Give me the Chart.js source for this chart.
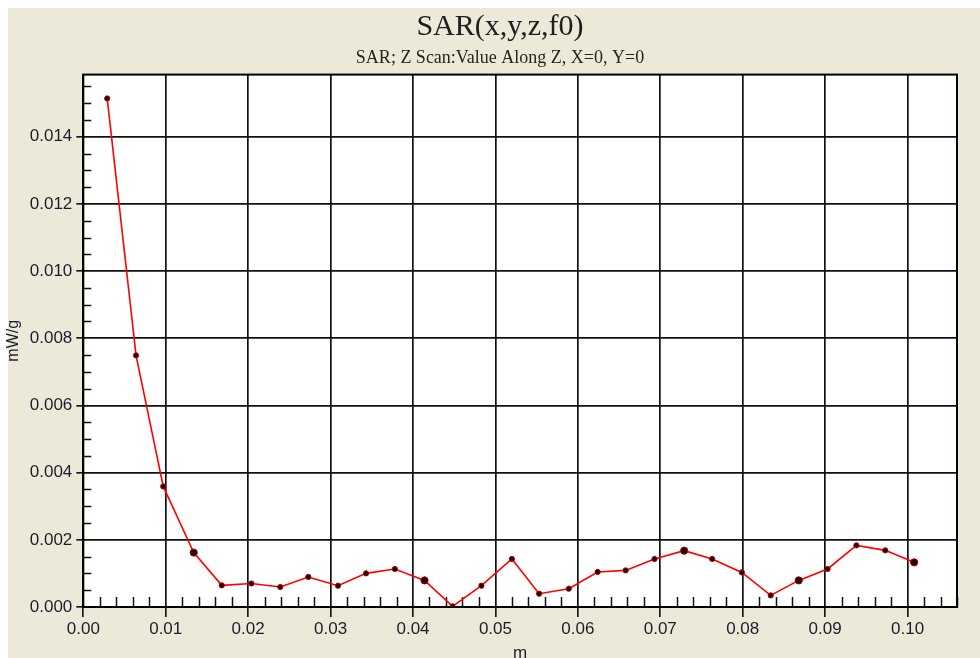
<!DOCTYPE html>
<html>
<head>
<meta charset="utf-8">
<script src="https://cdn.jsdelivr.net/npm/chart.js@4"></script>
<style>
  html, body { margin: 0; padding: 0; background: #ffffff; }
  #wrap { width: 980px; height: 658px; }
</style>
</head>
<body>
<div id="wrap"><canvas id="c" width="980" height="658"></canvas></div>
<script>
// ---- data ----
const zPositions = [0.0029, 0.0064, 0.0097, 0.0134, 0.0168, 0.0204, 0.0239, 0.0273, 0.0309, 0.0343,
                    0.0378, 0.0414, 0.0448, 0.0483, 0.0520, 0.0553, 0.0589, 0.0624, 0.0658, 0.0693,
                    0.0729, 0.0763, 0.0799, 0.0834, 0.0868, 0.0903, 0.0938, 0.0973, 0.1008];
const sarValues  = [0.01514, 0.00749, 0.00359, 0.00162, 0.000645, 0.00070, 0.000596, 0.000894, 0.000634, 0.001001,
                    0.001132, 0.000792, 0.00002, 0.000634, 0.00143, 0.000396, 0.000545, 0.001043, 0.00109, 0.00143,
                    0.001677, 0.00143, 0.00103, 0.000346, 0.000792, 0.001132, 0.001835, 0.001686, 0.001329];
const xTickStep = 0.01;
const yTickStep = 0.002;
const xMinorStep = 0.002;
const yMinorStep = 0.0005;
const titleText = 'SAR(x,y,z,f0)';
const subtitleText = 'SAR; Z Scan:Value Along Z, X=0, Y=0';
const xAxisTitle = 'm';
const yAxisTitle = 'mW/g';

// style only: indices drawn with a slightly larger marker
const bigMarkers = [3, 11, 20, 24, 28];

const points = zPositions.map((x, i) => ({ x: x, y: sarValues[i] }));

const bgPlugin = {
  id: 'bg',
  afterLayout(chart) {
    // centre the title block over the framed region (as in the reference)
    for (const b of chart.boxes) {
      if (b.options && (b.options.text === titleText || b.options.text === subtitleText)) {
        b.left = 43;
        b.right = 957;
      }
    }
  },
  beforeDraw(chart) {
    const ctx = chart.ctx, a = chart.chartArea;
    ctx.save();
    ctx.fillStyle = '#ffffff';
    ctx.fillRect(0, 0, chart.width, chart.height);
    ctx.fillStyle = '#ECE9D8';
    ctx.fillRect(8, 8, chart.width - 8, chart.height - 8);
    ctx.fillStyle = '#ffffff';
    ctx.fillRect(a.left, a.top, a.right - a.left, a.bottom - a.top);
    ctx.restore();
  },
  beforeDatasetsDraw(chart) {
    const ctx = chart.ctx, a = chart.chartArea;
    const xs = chart.scales.x, ys = chart.scales.y;
    ctx.save();
    ctx.strokeStyle = '#111';
    ctx.lineWidth = 1.5;
    ctx.beginPath();
    const nx = Math.floor(xs.max / xMinorStep + 1e-6);
    for (let i = 1; i <= nx; i++) {
      if (i % 5 === 0) continue;
      const px = Math.round(xs.getPixelForValue(i * xMinorStep)) + 0.5;
      ctx.moveTo(px, a.bottom);
      ctx.lineTo(px, a.bottom - 10);
    }
    const ny = Math.floor(ys.max / yMinorStep + 1e-6);
    for (let i = 1; i <= ny; i++) {
      if (i % 4 === 0) continue;
      const py = Math.round(ys.getPixelForValue(i * yMinorStep)) + 0.5;
      ctx.moveTo(a.left, py);
      ctx.lineTo(a.left + 8, py);
    }
    ctx.stroke();
    ctx.lineWidth = 2;
    ctx.strokeStyle = '#000';
    ctx.strokeRect(a.left, a.top, a.right - a.left, a.bottom - a.top);
    ctx.restore();
  }
};

const tickFont = { family: '"Liberation Sans", Arial, sans-serif', size: 17 };

new Chart(document.getElementById('c'), {
  type: 'scatter',
  data: {
    datasets: [{
      data: points,
      showLine: true,
      borderColor: '#ff0000',
      borderWidth: 1.6,
      tension: 0,
      pointRadius: (ctx) => bigMarkers.includes(ctx.dataIndex) ? 3.6 : 2.6,
      pointBackgroundColor: '#1a0000',
      pointBorderColor: '#b00000',
      pointBorderWidth: 1
    }]
  },
  options: {
    responsive: false,
    animation: false,
    devicePixelRatio: 1,
    layout: { padding: { left: 0, right: 23, top: 0, bottom: 0 } },
    plugins: {
      legend: { display: false },
      tooltip: { enabled: false },
      title: {
        display: true,
        text: titleText,
        color: '#1e1e1e',
        font: { family: '"Liberation Serif", "Times New Roman", serif', size: 30, weight: 'normal' },
        padding: { top: 9, bottom: 0 }
      },
      subtitle: {
        display: true,
        text: subtitleText,
        color: '#2a2418',
        font: { family: '"Liberation Serif", "Times New Roman", serif', size: 18, weight: 'normal' },
        padding: { top: 2, bottom: 6 }
      }
    },
    scales: {
      x: {
        type: 'linear',
        min: 0,
        max: 0.106,
        afterFit(scale) { scale.height = 51; },
        border: { display: true, color: '#000', width: 2 },
        grid: { color: '#111', lineWidth: 1.7, drawTicks: true, tickLength: 10, tickColor: '#000', tickWidth: 1.5 },
        ticks: {
          stepSize: xTickStep,
          includeBounds: false,
          padding: 2,
          color: '#1c1c2c',
          font: tickFont,
          maxRotation: 0,
          callback: (v) => Number(v).toFixed(2)
        },
        title: {
          display: true,
          text: xAxisTitle,
          color: '#1c1c2c',
          font: { family: '"Liberation Sans", Arial, sans-serif', size: 17 },
          padding: { top: 0, bottom: -5.5 }
        }
      },
      y: {
        type: 'linear',
        min: 0,
        max: 0.01585,
        afterFit(scale) { scale.width = 83.3; },
        border: { display: true, color: '#000', width: 2 },
        grid: { color: '#111', lineWidth: 1.7, drawTicks: true, tickLength: 7, tickColor: '#000', tickWidth: 1.5 },
        ticks: {
          stepSize: yTickStep,
          includeBounds: false,
          padding: 4,
          color: '#1c1c2c',
          font: tickFont,
          callback: (v) => Number(v).toFixed(3)
        },
        title: {
          display: true,
          text: yAxisTitle,
          color: '#1c1c2c',
          font: { family: '"Liberation Sans", Arial, sans-serif', size: 16 },
          padding: { top: 4.4, bottom: 0 }
        }
      }
    }
  },
  plugins: [bgPlugin]
});
</script>
</body>
</html>
